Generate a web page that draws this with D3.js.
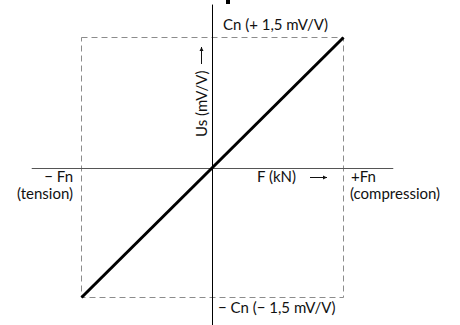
<!DOCTYPE html>
<html>
  <head>
    <title></title>
    <style>
      body, html{
        margin: 0;
        width: 100%;
        height: 100%;
        background: white;
      }
      text{
        font-family: Lato, "Open Sans", sans-serif;
        font-size: 15px;
        fill: #111;
      }
    </style>
  </head>
  <body>
    <div id="chart"></div>
    <script src="https://cdnjs.cloudflare.com/ajax/libs/d3/7.8.5/d3.min.js" charset="utf-8"></script>
    <script>
      // nominal force (x, in Fn) and signal (y, in mV/V) limits
      var forceLimits = [-1, 1]
      var signalLimits = [-1.5, 1.5]
      var characteristic = [[-1, -1.5], [1, 1.5]]
      var xAxisExtent = [-1.38, 1.38]
      var yAxisExtent = [-1.85, 1.88]

      var width = 460, height = 325
      var svg = d3.select('#chart').append('svg').attr('width', width).attr('height', height)

      var x = d3.scaleLinear().domain(forceLimits).range([81.5, 343.5])
      var y = d3.scaleLinear().domain(signalLimits).range([297.5, 37.5])

      // dashed box
      svg.append('rect')
        .attr('x', x(forceLimits[0])).attr('y', y(signalLimits[1]))
        .attr('width', x(forceLimits[1]) - x(forceLimits[0]))
        .attr('height', y(signalLimits[0]) - y(signalLimits[1]))
        .attr('fill', 'none').attr('stroke', '#8c8c8c').attr('stroke-width', 1)
        .attr('stroke-dasharray', '6,4')

      // axes
      svg.append('line')
        .attr('x1', x(xAxisExtent[0])).attr('x2', x(xAxisExtent[1]))
        .attr('y1', Math.round(y(0)) + 0.5).attr('y2', Math.round(y(0)) + 0.5)
        .attr('stroke', '#555').attr('stroke-width', 1)
      svg.append('line')
        .attr('x1', Math.round(x(0)) - 0.5).attr('x2', Math.round(x(0)) - 0.5)
        .attr('y1', y(yAxisExtent[1])).attr('y2', y(yAxisExtent[0]))
        .attr('stroke', '#000').attr('stroke-width', 1)

      // characteristic line
      svg.append('path')
        .datum(characteristic)
        .attr('d', d3.line().x(function(d){ return x(d[0]) }).y(function(d){ return y(d[1]) }))
        .attr('fill', 'none').attr('stroke', '#000').attr('stroke-width', 3)

      // small clipped mark at the top
      svg.append('rect').attr('x', 226).attr('y', 0).attr('width', 4).attr('height', 4).attr('fill', '#000')

      // arrows
      function arrow(x1, y1, x2, y2){
        var a = Math.atan2(y2 - y1, x2 - x1), s = 4
        svg.append('line').attr('x1', x1).attr('y1', y1).attr('x2', x2).attr('y2', y2)
          .attr('stroke', '#111').attr('stroke-width', 1)
        svg.append('path')
          .attr('d', 'M' + x2 + ',' + y2
            + 'L' + (x2 - s * Math.cos(a) + s * 0.5 * Math.sin(a)) + ',' + (y2 - s * Math.sin(a) - s * 0.5 * Math.cos(a))
            + 'L' + (x2 - s * Math.cos(a) - s * 0.5 * Math.sin(a)) + ',' + (y2 - s * Math.sin(a) + s * 0.5 * Math.cos(a)) + 'Z')
          .attr('fill', '#111')
      }
      arrow(310, 177.5, 327, 177.5)
      arrow(201.5, 64, 201.5, 47)

      // labels
      svg.append('text').attr('x', 223).attr('y', 30).text('Cn (+ 1,5 mV/V)')
      svg.append('text').attr('x', 218).attr('y', 313).text('\u2212 Cn (\u2212 1,5 mV/V)')
      svg.append('text').attr('x', 73).attr('y', 182).attr('text-anchor', 'end').text('\u2212 Fn')
      svg.append('text').attr('x', 73).attr('y', 199).attr('text-anchor', 'end').text('(tension)')
      svg.append('text').attr('x', 351).attr('y', 182).text('+Fn')
      svg.append('text').attr('x', 350).attr('y', 199).text('(compression)')
      svg.append('text').attr('x', 257).attr('y', 182).text('F (kN)')
      svg.append('text')
        .attr('transform', 'translate(207,137) rotate(-90)')
        .text('Us (mV/V)')
    </script>
  </body>
</html>
